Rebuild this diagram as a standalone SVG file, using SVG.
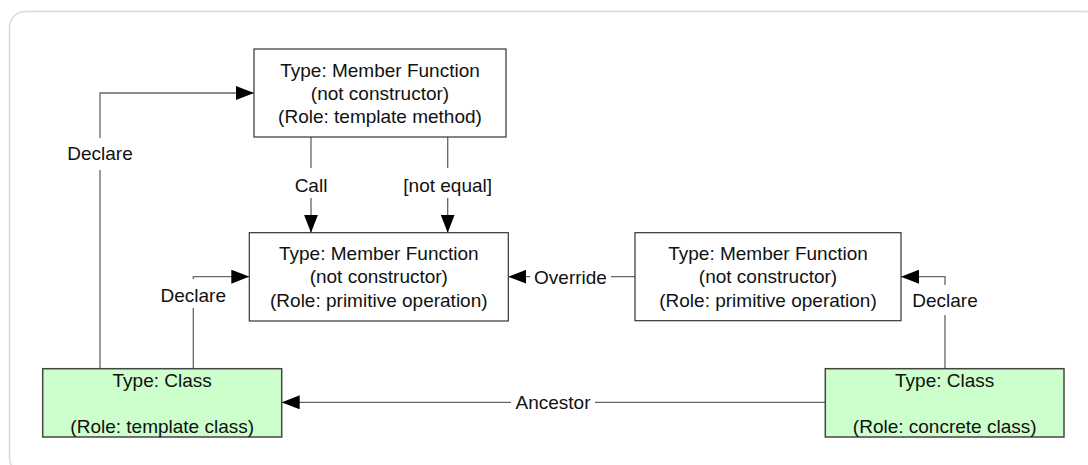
<svg xmlns="http://www.w3.org/2000/svg" width="1088" height="465" viewBox="0 0 1088 465">
<style>
.box{fill:#fff;stroke:#333;stroke-width:1.2}
.cls{fill:#ccffcc;stroke:#444;stroke-width:1.5}
.t{font-family:"Liberation Sans",Arial,sans-serif;font-size:19px;fill:#111;text-anchor:middle}
.c{fill:none;stroke:#666;stroke-width:1.3}
</style>
<defs>
<marker id="ah" markerWidth="18" markerHeight="14" refX="18" refY="7" orient="auto" markerUnits="userSpaceOnUse">
<path d="M0,0 L18,7 L0,14 Z" fill="#000"/>
</marker>
</defs>
<rect x="9.5" y="11.5" width="1092" height="462" rx="16" fill="#fff" stroke="#d9d9d9" stroke-width="1.5"/>
<g id="connectors">
<path class="c" d="M100,368.7 V170 M100,138 V93 H254" marker-end="url(#ah)"/>
<path class="c" d="M193.3,368.7 V308 M193.3,279 V276.7 H249.3" marker-end="url(#ah)"/>
<path class="c" d="M311,137 V168 M311,198 V232.7" marker-end="url(#ah)"/>
<path class="c" d="M447.7,137 V168 M447.7,198 V232.7" marker-end="url(#ah)"/>
<path class="c" d="M635,276.7 H611 M530,276.7 H508.3" marker-end="url(#ah)"/>
<path class="c" d="M945,368.7 V315 M945,285 V276.7 H901" marker-end="url(#ah)"/>
<path class="c" d="M825.3,402.3 H595 M511,402.3 H281.7" marker-end="url(#ah)"/>
<text class="t" x="100" y="160">Declare</text>
<text class="t" x="193.3" y="301.5">Declare</text>
<text class="t" x="311" y="191.5">Call</text>
<text class="t" x="447.7" y="191.5">[not equal]</text>
<text class="t" x="570.5" y="283.5">Override</text>
<text class="t" x="945" y="306.5">Declare</text>
<text class="t" x="553" y="409">Ancestor</text>
</g>
<g id="n-template-method">
<rect class="box" x="254" y="49" width="252" height="88"/>
<text class="t" x="380" y="76.5">Type: Member Function</text>
<text class="t" x="380" y="100">(not constructor)</text>
<text class="t" x="380" y="123">(Role: template method)</text>
</g>
<g id="n-primitive-op">
<rect class="box" x="249.3" y="232.7" width="259" height="88.3"/>
<text class="t" x="378.8" y="259.7">Type: Member Function</text>
<text class="t" x="378.8" y="283.3">(not constructor)</text>
<text class="t" x="378.8" y="306.7">(Role: primitive operation)</text>
</g>
<g id="n-concrete-op">
<rect class="box" x="635" y="232.7" width="266" height="88"/>
<text class="t" x="768" y="259.7">Type: Member Function</text>
<text class="t" x="768" y="283.3">(not constructor)</text>
<text class="t" x="768" y="306.7">(Role: primitive operation)</text>
</g>
<g id="n-template-class">
<rect class="cls" x="42.7" y="368.7" width="239" height="68.3"/>
<text class="t" x="162.2" y="386.7">Type: Class</text>
<text class="t" x="162.2" y="432.5">(Role: template class)</text>
</g>
<g id="n-concrete-class">
<rect class="cls" x="825.3" y="368.7" width="238.7" height="68.3"/>
<text class="t" x="944.7" y="386.7">Type: Class</text>
<text class="t" x="944.7" y="432.5">(Role: concrete class)</text>
</g>
</svg>
